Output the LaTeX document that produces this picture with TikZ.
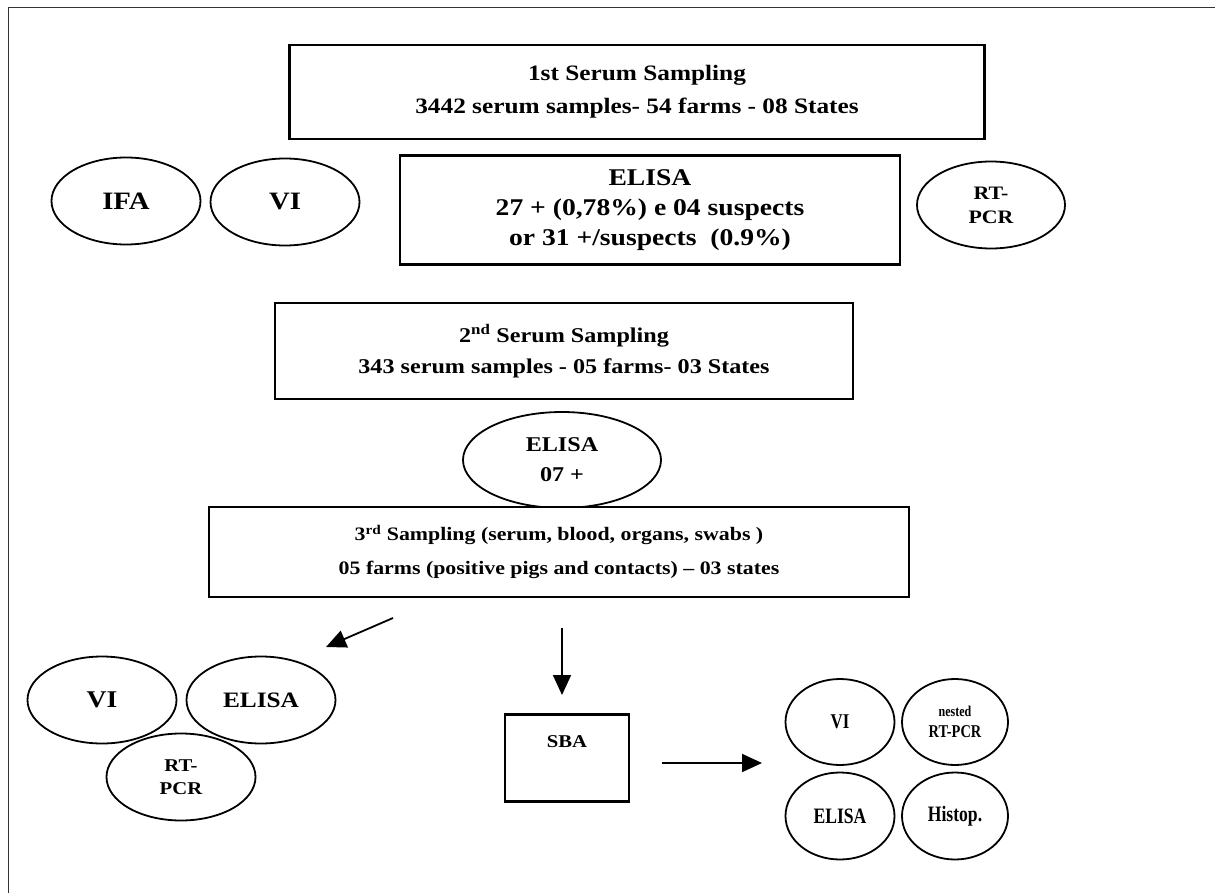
\documentclass[tikz,border=0pt]{standalone}
\usepackage{fontspec}
\setmainfont[FakeStretch=1.15]{Liberation Serif}
\newfontfamily\narrowfont[FakeStretch=0.8]{Liberation Serif}
\usetikzlibrary{shapes.geometric,arrows.meta}

\tikzset{
  box/.style={draw, line width=2.4pt, inner sep=0pt, align=center, fill=white},
  oval/.style={draw, ellipse, line width=1.8pt, inner sep=0pt, align=center},
  pfeil/.style={line width=1.8pt, -{Triangle[length=20pt,width=18pt]}}
}
\newcommand{\fs}[2]{\fontsize{#1}{#2}\selectfont\bfseries}

\begin{document}
\begin{tikzpicture}[x=1pt, y=-1pt]
\useasboundingbox (0,0) rectangle (1215,893);
\draw[line width=0.8pt, black!80] (8,893) -- (8,7) -- (1215,7);

% first sampling
\node[box, minimum width=695, minimum height=94, font=\fs{22}{33}] (s1) at (637,92)
  {1st Serum Sampling\\3442 serum samples- 54 farms - 08 States};
\node[box, minimum width=500, minimum height=109, font=\fs{24}{30}] (el1) at (650,210)
  {ELISA\\27 + (0,78\%) e 04 suspects\\or 31 +/suspects~~(0.9\%)};
\node[oval, minimum width=149, minimum height=87, font=\fs{25}{28}] (ifa) at (126,201) {IFA};
\node[oval, minimum width=149, minimum height=87, font=\fs{25}{28}] (vi1) at (285,202) {VI};
\node[oval, minimum width=148, minimum height=87, font=\fs{19}{24}] (pcr1) at (991,205) {RT-\\PCR};

% second sampling
\node[box, minimum width=578, minimum height=96, font=\fs{21}{31}] (s2) at (564,351)
  {2\textsuperscript{nd} Serum Sampling\\343 serum samples - 05 farms- 03 States};
\node[oval, minimum width=198, minimum height=96, font=\fs{21}{30}] (el2) at (562,460) {ELISA\\07 +};

% third sampling
\node[box, minimum width=700, minimum height=90, font=\fs{19}{34}] (s3) at (559,552)
  {3\textsuperscript{rd} Sampling (serum, blood, organs, swabs )\\05 farms (positive pigs and contacts) -- 03 states};

\coordinate (a1) at (393,618);
\coordinate (a1e) at (326,647);
\coordinate (a2) at (562,628);
\coordinate (a2e) at (562,695);
\coordinate (a3) at (662,763);
\coordinate (a3e) at (762,763);
\draw[pfeil] (a1) -- (a1e);
\draw[pfeil] (a2) -- (a2e);
\draw[pfeil] (a3) -- (a3e);

% left group
\node[oval, minimum width=149, minimum height=87, font=\fs{24}{28}] (vi2) at (102,700) {VI};
\node[oval, minimum width=149, minimum height=87, font=\fs{22}{28}] (el3) at (261,700) {ELISA};
\node[oval, minimum width=149, minimum height=87, font=\fs{18}{23}] (pcr2) at (181,777) {RT-\\PCR};

% SBA
\node[box, minimum width=124, minimum height=87, text height=13pt, text depth=34pt, font=\fs{18}{24}] (sba) at (567,758) {SBA};

% right group
\node[oval, minimum width=109, minimum height=86, font=\narrowfont\fs{21}{26}] (vi3) at (840,722) {VI};
\node[oval, minimum width=106, minimum height=86, font=\narrowfont\fs{18}{21}] (npcr) at (955,722) {{\fontsize{15}{18}\selectfont nested}\\RT-PCR};
\node[oval, minimum width=109, minimum height=87, font=\narrowfont\fs{22}{26}] (el4) at (840,816) {ELISA};
\node[oval, minimum width=106, minimum height=87, font=\narrowfont\fs{22}{26}] (hist) at (955,816) {Histop.};
\end{tikzpicture}
\end{document}
